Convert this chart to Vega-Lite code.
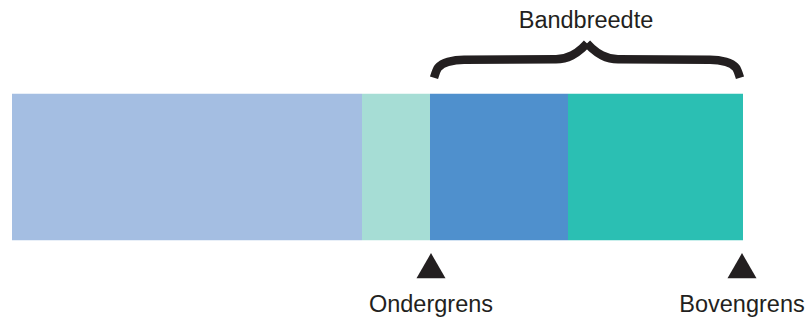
{
  "$schema": "https://vega.github.io/schema/vega-lite/v6.json",
  "width": 812,
  "height": 317,
  "autosize": {"type": "fit", "contains": "padding"},
  "padding": 0,
  "background": "white",
  "config": {"view": {"stroke": null}},
  "datasets": {
    "segments": [
      {"segment": "a", "start": 12, "end": 362, "top": 94, "bottom": 241},
      {"segment": "b", "start": 362, "end": 430, "top": 94, "bottom": 241},
      {"segment": "c", "start": 430, "end": 568, "top": 94, "bottom": 241},
      {"segment": "d", "start": 568, "end": 743, "top": 94, "bottom": 241}
    ],
    "brace": [
      {"half": "L", "o": 1, "x": 434, "y": 78},
      {"half": "L", "o": 2, "x": 438, "y": 68},
      {"half": "L", "o": 3, "x": 448, "y": 62},
      {"half": "L", "o": 4, "x": 464, "y": 60},
      {"half": "L", "o": 5, "x": 556, "y": 59.5},
      {"half": "L", "o": 6, "x": 572, "y": 55.5},
      {"half": "L", "o": 7, "x": 582, "y": 48.5},
      {"half": "L", "o": 8, "x": 587, "y": 43.5},
      {"half": "R", "o": 1, "x": 587, "y": 43.5},
      {"half": "R", "o": 2, "x": 592, "y": 48.5},
      {"half": "R", "o": 3, "x": 602, "y": 55.5},
      {"half": "R", "o": 4, "x": 618, "y": 59.5},
      {"half": "R", "o": 5, "x": 710, "y": 60},
      {"half": "R", "o": 6, "x": 726, "y": 62},
      {"half": "R", "o": 7, "x": 736, "y": 68},
      {"half": "R", "o": 8, "x": 740, "y": 78}
    ],
    "markers": [
      {"label": "Ondergrens", "x": 431, "ty": 266.5, "ly": 313},
      {"label": "Bovengrens", "x": 742, "ty": 266.5, "ly": 313}
    ],
    "title": [
      {"label": "Bandbreedte", "x": 586, "y": 28}
    ]
  },
  "layer": [
    {
      "data": {"name": "segments"},
      "mark": {"type": "rect"},
      "encoding": {
        "x": {"field": "start", "type": "quantitative", "scale": {"domain": [0, 812], "nice": false, "zero": false}, "axis": null},
        "x2": {"field": "end"},
        "y": {"field": "top", "type": "quantitative", "scale": {"domain": [0, 317], "nice": false, "reverse": true}, "axis": null},
        "y2": {"field": "bottom"},
        "color": {"field": "segment", "type": "nominal", "scale": {"domain": ["a", "b", "c", "d"], "range": ["#A4BEE2", "#A6DDD5", "#4F90CD", "#2BBFB3"]}, "legend": null}
      }
    },
    {
      "data": {"name": "brace"},
      "mark": {"type": "line", "interpolate": "monotone", "stroke": "#231F20", "strokeWidth": 8.5, "strokeCap": "butt", "strokeJoin": "miter"},
      "encoding": {
        "x": {"field": "x", "type": "quantitative"},
        "y": {"field": "y", "type": "quantitative"},
        "detail": {"field": "half", "type": "nominal"},
        "order": {"field": "o", "type": "quantitative"}
      }
    },
    {
      "data": {"name": "markers"},
      "mark": {"type": "point", "shape": "triangle-up", "filled": true, "color": "#231F20", "size": 841, "opacity": 1},
      "encoding": {
        "x": {"field": "x", "type": "quantitative"},
        "y": {"field": "ty", "type": "quantitative"}
      }
    },
    {
      "data": {"name": "markers"},
      "mark": {"type": "text", "font": "Liberation Sans", "fontSize": 23.5, "color": "#231F20", "align": "center", "baseline": "alphabetic"},
      "encoding": {
        "x": {"field": "x", "type": "quantitative"},
        "y": {"field": "ly", "type": "quantitative"},
        "text": {"field": "label"}
      }
    },
    {
      "data": {"name": "title"},
      "mark": {"type": "text", "font": "Liberation Sans", "fontSize": 23.5, "color": "#231F20", "align": "center", "baseline": "alphabetic"},
      "encoding": {
        "x": {"field": "x", "type": "quantitative"},
        "y": {"field": "y", "type": "quantitative"},
        "text": {"field": "label"}
      }
    }
  ]
}
